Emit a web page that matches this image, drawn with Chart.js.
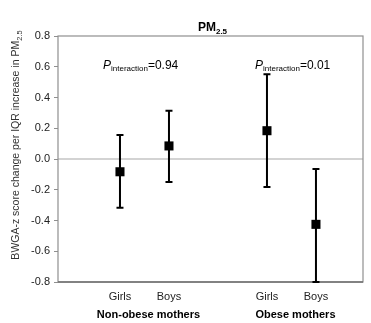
<!DOCTYPE html>
<html><head><meta charset="utf-8">
<script src="https://cdn.jsdelivr.net/npm/chart.js@4"></script>
<style>html,body{margin:0;padding:0;background:#fff}#wrap{width:371px;height:323px}</style>
</head><body><div id="wrap"><canvas id="c" width="371" height="323"></canvas></div>
<script>
const categories = ['Girls', 'Boys', 'Girls', 'Boys'];
const groups = ['Non-obese mothers', 'Obese mothers'];
const xPositions = [1, 2, 4, 5];
const estimates = [-0.083, 0.085, 0.184, -0.425];
const lower = [-0.317, -0.15, -0.182, -0.80];
const upper = [0.156, 0.314, 0.551, -0.065];
const pInteraction = ['0.94', '0.01'];
const yTicks = [-0.8, -0.6, -0.4, -0.2, 0.0, 0.2, 0.4, 0.6, 0.8];

const FONT = '"Liberation Sans", Arial, sans-serif';

const deco = {
  id: 'deco',
  beforeDatasetsDraw(chart) {
    const {ctx, chartArea: a, scales} = chart;
    ctx.save();
    const y0 = scales.y.getPixelForValue(0);
    ctx.strokeStyle = '#c4c4c4'; ctx.lineWidth = 1.5;
    ctx.beginPath(); ctx.moveTo(a.left, y0); ctx.lineTo(a.right, y0); ctx.stroke();
    ctx.strokeStyle = '#8f8f8f'; ctx.lineWidth = 1.2;
    ctx.strokeRect(a.left, a.top, a.right - a.left, a.bottom - a.top);
    ctx.strokeStyle = '#6f6f6f'; ctx.lineWidth = 1.5;
    ctx.beginPath(); ctx.moveTo(a.left, a.bottom); ctx.lineTo(a.right, a.bottom); ctx.stroke();
    ctx.strokeStyle = '#000'; ctx.lineWidth = 2;
    xPositions.forEach((xv, i) => {
      const x = scales.x.getPixelForValue(xv);
      const yl = scales.y.getPixelForValue(lower[i]);
      const yu = scales.y.getPixelForValue(upper[i]);
      ctx.beginPath();
      ctx.moveTo(x, yl); ctx.lineTo(x, yu);
      ctx.moveTo(x - 3.5, yl); ctx.lineTo(x + 3.5, yl);
      ctx.moveTo(x - 3.5, yu); ctx.lineTo(x + 3.5, yu);
      ctx.stroke();
    });
    ctx.restore();
  },
  afterDraw(chart) {
    const {ctx, chartArea: a, scales} = chart;
    ctx.save();
    ctx.fillStyle = '#000';
    ctx.textBaseline = 'alphabetic';
    const cx = (a.left + a.right) / 2 + 2;
    ctx.font = 'bold 12px ' + FONT;
    const w1 = ctx.measureText('PM').width;
    ctx.font = 'bold 8px ' + FONT;
    const w2 = ctx.measureText('2.5').width;
    let sx = cx - (w1 + w2) / 2;
    ctx.font = 'bold 12px ' + FONT; ctx.textAlign = 'left';
    ctx.fillText('PM', sx, 31);
    ctx.font = 'bold 8px ' + FONT;
    ctx.fillText('2.5', sx + w1, 34);
    const annX = [103, 255];
    pInteraction.forEach((p, i) => {
      let x = annX[i];
      ctx.font = 'italic 12px ' + FONT;
      ctx.fillText('P', x, 69); x += ctx.measureText('P').width;
      ctx.font = '8px ' + FONT;
      ctx.fillText('interaction', x, 71); x += ctx.measureText('interaction').width;
      ctx.font = '12px ' + FONT;
      ctx.fillText('=' + p, x, 69);
    });
    ctx.font = 'bold 11px ' + FONT; ctx.textAlign = 'center';
    const gc = [(xPositions[0] + xPositions[1]) / 2, (xPositions[2] + xPositions[3]) / 2];
    groups.forEach((g, i) => {
      ctx.fillText(g, scales.x.getPixelForValue(gc[i]) + 4, 318);
    });
    // y axis title
    ctx.translate(19, 145);
    ctx.rotate(-Math.PI / 2);
    const main = 'BWGA-z score change per IQR increase in PM';
    ctx.font = '10.5px ' + FONT;
    const mw = ctx.measureText(main).width;
    ctx.font = '7.5px ' + FONT;
    const sw = ctx.measureText('2.5').width;
    ctx.textAlign = 'left';
    ctx.fillStyle = '#333';
    ctx.font = '10.5px ' + FONT;
    ctx.fillText(main, -(mw + sw) / 2, 0);
    ctx.font = '7.5px ' + FONT;
    ctx.fillText('2.5', -(mw + sw) / 2 + mw, 3);
    ctx.restore();
  }
};

new Chart(document.getElementById('c'), {
  type: 'scatter',
  data: {
    datasets: [{
      data: xPositions.map((x, i) => ({x, y: estimates[i]})),
      pointStyle: 'rect', pointRadius: 6.4, pointHoverRadius: 6.4,
      backgroundColor: '#000', borderColor: '#000', borderWidth: 0
    }]
  },
  options: {
    responsive: false, animation: false,
    layout: {padding: {top: 36, right: 8, left: 0, bottom: 0}},
    plugins: {legend: {display: false}, tooltip: {enabled: false}, title: {display: false}},
    scales: {
      x: {
        type: 'linear', min: -0.265, max: 5.96,
        grid: {display: false, drawTicks: false},
        border: {display: false},
        afterBuildTicks(s) { s.ticks = xPositions.map(v => ({value: v})); },
        afterFit(s) { s.height = 41; },
        ticks: {
          padding: 8, color: '#222', font: {size: 11, family: FONT},
          callback(v) { const i = xPositions.indexOf(v); return i >= 0 ? categories[i] : ''; }
        }
      },
      y: {
        min: -0.8, max: 0.8,
        afterBuildTicks(s) { s.ticks = yTicks.map(v => ({value: v})); },
        afterFit(s) { s.width = 58; },
        grid: {drawOnChartArea: false, drawTicks: true, tickLength: 4, color: '#8f8f8f'},
        border: {display: false},
        ticks: {
          padding: 4, color: '#222', font: {size: 11, family: FONT},
          callback(v) { return v.toFixed(1); }
        }
      }
    }
  },
  plugins: [deco]
});
</script></body></html>
